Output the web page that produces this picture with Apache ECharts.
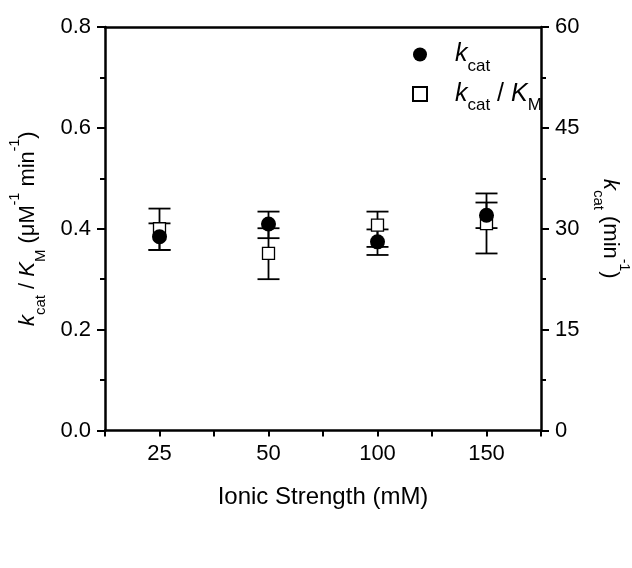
<!DOCTYPE html>
<html><head><meta charset="utf-8">
<script src="https://cdn.jsdelivr.net/npm/echarts@6/dist/echarts.min.js"></script>
<style>html,body{margin:0;padding:0;background:#fff}#c{width:632px;height:568px}</style>
</head><body><div id="c"></div>
<script>
// ---- data ----
const categories = ['25', '50', '100', '150'];           // Ionic strength (mM)
const kcat = [28.8, 30.7, 28.05, 32.0];                  // min^-1 (right axis)
const kcatLow = [26.85, 28.6, 26.1, 30.1];
const kcatHigh = [30.8, 32.55, 29.9, 33.9];
const kcatKM = [0.400, 0.351, 0.407, 0.410];             // uM^-1 min^-1 (left axis)
const kcatKMLow = [0.358, 0.300, 0.364, 0.351];
const kcatKMHigh = [0.440, 0.401, 0.434, 0.470];

const FONT = '"Liberation Sans", Arial, sans-serif';
const idx = categories.map((c, i) => i);

function errRender(params, api) {
  const x = api.value(0);
  const lo = api.coord([x, api.value(1)]);
  const hi = api.coord([x, api.value(2)]);
  const hw = 11;
  const style = { stroke: '#000', lineWidth: 1.8 };
  return { type: 'group', children: [
    { type: 'line', shape: { x1: lo[0], y1: lo[1], x2: hi[0], y2: hi[1] }, style },
    { type: 'line', shape: { x1: lo[0] - hw, y1: lo[1], x2: lo[0] + hw, y2: lo[1] }, style },
    { type: 'line', shape: { x1: hi[0] - hw, y1: hi[1], x2: hi[0] + hw, y2: hi[1] }, style }
  ]};
}

const axisLine = { show: true, onZero: false, lineStyle: { color: '#000', width: 2.5 } };
const tickStyle = { color: '#000', width: 2 };

const chart = echarts.init(document.getElementById('c'), null, { renderer: 'canvas' });
chart.setOption({
  animation: false,
  backgroundColor: '#fff',
  textStyle: { fontFamily: FONT, color: '#000' },
  grid: { left: 105, right: 91, top: 27, bottom: 137.5, containLabel: false, outerBoundsMode: 'none' },
  legend: {
    orient: 'vertical', left: 407, top: 37, itemGap: 7, itemWidth: 14, itemHeight: 14,
    selectedMode: false,
    data: ['kcat', 'kcatKM'],
    formatter: n => n === 'kcat' ? '{sp| }{i|k}{s|cat}' : '{sp| }{i|k}{s|cat}{n| / }{i|K}{s|M}',
    textStyle: {
      fontFamily: FONT, color: '#000',
      rich: {
        sp: { width: 23, fontSize: 25, lineHeight: 40 },
        i: { fontStyle: 'italic', fontSize: 25, lineHeight: 40, fontFamily: FONT, color: '#000' },
        n: { fontSize: 25, lineHeight: 40, fontFamily: FONT, color: '#000' },
        s: { fontSize: 17, lineHeight: 14, verticalAlign: 'bottom', fontFamily: FONT, color: '#000' }
      }
    }
  },
  xAxis: [{
    type: 'value', min: -0.5, max: 3.5, interval: 0.5, position: 'bottom',
    axisLine, splitLine: { show: false },
    axisTick: { show: true, inside: false, length: 6, lineStyle: tickStyle },
    axisLabel: { margin: 12, fontSize: 22, fontFamily: FONT, color: '#000',
      formatter: v => Number.isInteger(v) ? categories[v] : '' },
    name: 'Ionic Strength (mM)', nameLocation: 'middle', nameGap: 55,
    nameTextStyle: { fontSize: 24, fontFamily: FONT, color: '#000' }
  }, {
    type: 'value', min: -0.5, max: 3.5, position: 'top',
    axisLine, axisTick: { show: false }, axisLabel: { show: false }, splitLine: { show: false }
  }],
  yAxis: [{
    type: 'value', min: 0, max: 0.8, interval: 0.2, position: 'left',
    axisLine, splitLine: { show: false },
    axisTick: { show: true, inside: false, length: 8, lineStyle: tickStyle },
    minorTick: { show: true, splitNumber: 2, length: 5, lineStyle: tickStyle },
    minorSplitLine: { show: false },
    axisLabel: { margin: 14, fontSize: 22, fontFamily: FONT, color: '#000', formatter: v => v.toFixed(1) },
    name: '{i|k}{s|cat}{n| / }{i|K}{s|M}{n| (μM}{p|-1}{n| min}{p|-1}{n|)}',
    nameLocation: 'middle', nameGap: 57,
    nameTextStyle: {
      fontFamily: FONT, color: '#000',
      rich: {
        i: { fontStyle: 'italic', fontSize: 22, lineHeight: 40, fontFamily: FONT, color: '#000' },
        n: { fontSize: 22, lineHeight: 40, fontFamily: FONT, color: '#000' },
        s: { fontSize: 15, lineHeight: 16, verticalAlign: 'bottom', fontFamily: FONT, color: '#000' },
        p: { fontSize: 14, lineHeight: 28, verticalAlign: 'top', fontFamily: FONT, color: '#000' }
      }
    }
  }, {
    type: 'value', min: 0, max: 60, interval: 15, position: 'right',
    axisLine, splitLine: { show: false },
    axisTick: { show: true, inside: false, length: 8, lineStyle: tickStyle },
    minorTick: { show: true, splitNumber: 2, length: 5, lineStyle: tickStyle },
    minorSplitLine: { show: false },
    axisLabel: { margin: 14, fontSize: 22, fontFamily: FONT, color: '#000' },
    name: '{i|k}{s|cat}{n| (min}{p|-1}{n|)}',
    nameLocation: 'middle', nameGap: 38, nameRotate: -90,
    nameTextStyle: {
      fontFamily: FONT, color: '#000',
      rich: {
        i: { fontStyle: 'italic', fontSize: 22, lineHeight: 40, fontFamily: FONT, color: '#000' },
        n: { fontSize: 22, lineHeight: 40, fontFamily: FONT, color: '#000' },
        s: { fontSize: 15, lineHeight: 16, verticalAlign: 'bottom', fontFamily: FONT, color: '#000' },
        p: { fontSize: 14, lineHeight: 28, verticalAlign: 'top', fontFamily: FONT, color: '#000' }
      }
    }
  }],
  series: [
    { type: 'custom', name: 'errKM', yAxisIndex: 0, renderItem: errRender,
      encode: { x: 0, y: [1, 2] }, z: 2,
      data: idx.map(i => [i, kcatKMLow[i], kcatKMHigh[i]]) },
    { type: 'custom', name: 'errKcat', yAxisIndex: 1, renderItem: errRender,
      encode: { x: 0, y: [1, 2] }, z: 2,
      data: idx.map(i => [i, kcatLow[i], kcatHigh[i]]) },
    { type: 'scatter', name: 'kcatKM', yAxisIndex: 0, symbol: 'rect', symbolSize: 12, z: 3,
      itemStyle: { color: '#fff', borderColor: '#000', borderWidth: 1.3, opacity: 1 },
      data: idx.map(i => [i, kcatKM[i]]) },
    { type: 'scatter', name: 'kcat', yAxisIndex: 1, symbol: 'circle', symbolSize: 15, z: 4,
      itemStyle: { color: '#000', opacity: 1 },
      data: idx.map(i => [i, kcat[i]]) }
  ]
});
</script></body></html>
